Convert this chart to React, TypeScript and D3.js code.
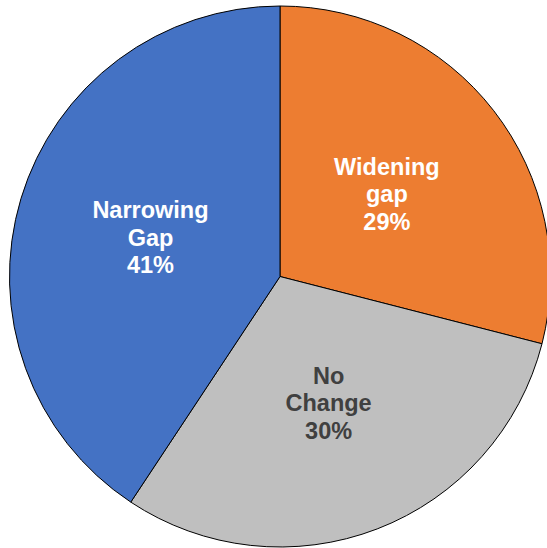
import React from "react";
import * as d3 from "d3";

// slice data, clockwise from 12 o'clock
const categories = ["Widening gap", "No Change", "Narrowing Gap"];
const labelLines = [["Widening", "gap", "29%"], ["No", "Change", "30%"], ["Narrowing", "Gap", "41%"]];
// shares (labels show them rounded)
const values = [29.0, 30.3, 40.7];
const colors = ["#ED7D31", "#BFBFBF", "#4472C4"];
const textColors = ["#FFFFFF", "#404040", "#FFFFFF"];

const width = 547;
const height = 548;

export default function App() {
  const cx = 280;
  const cy = 276.5;
  const radius = 270.5;

  const pie = d3.pie<number>().sort(null).value((d) => d);
  const arcs = pie(values);
  const arc = d3.arc<d3.PieArcDatum<number>>().innerRadius(0).outerRadius(radius);

  const fontSize = 23.5;
  const lineH = 27.5;

  return (
    <svg
      width={width}
      height={height}
      style={{ position: "absolute", left: 0, top: 0, background: "#fff" }}
    >
      <g transform={`translate(${cx},${cy})`}>
        {arcs.map((a, i) => (
          <path key={categories[i]} d={arc(a) || ""} fill={colors[i]} stroke="#000" strokeWidth={1} />
        ))}
        {arcs.map((a, i) => {
          const [x, y] = arc.centroid(a);
          return (
            <text
              key={"t" + i}
              x={x}
              y={y}
              textAnchor="middle"
              fill={textColors[i]}
              fontFamily="Liberation Sans, Arial, sans-serif"
              fontWeight="bold"
              fontSize={fontSize}
            >
              {labelLines[i].map((line, j) => (
                <tspan key={j} x={x} y={y + 8.4 + (j - 1) * lineH}>
                  {line}
                </tspan>
              ))}
            </text>
          );
        })}
      </g>
    </svg>
  );
}
